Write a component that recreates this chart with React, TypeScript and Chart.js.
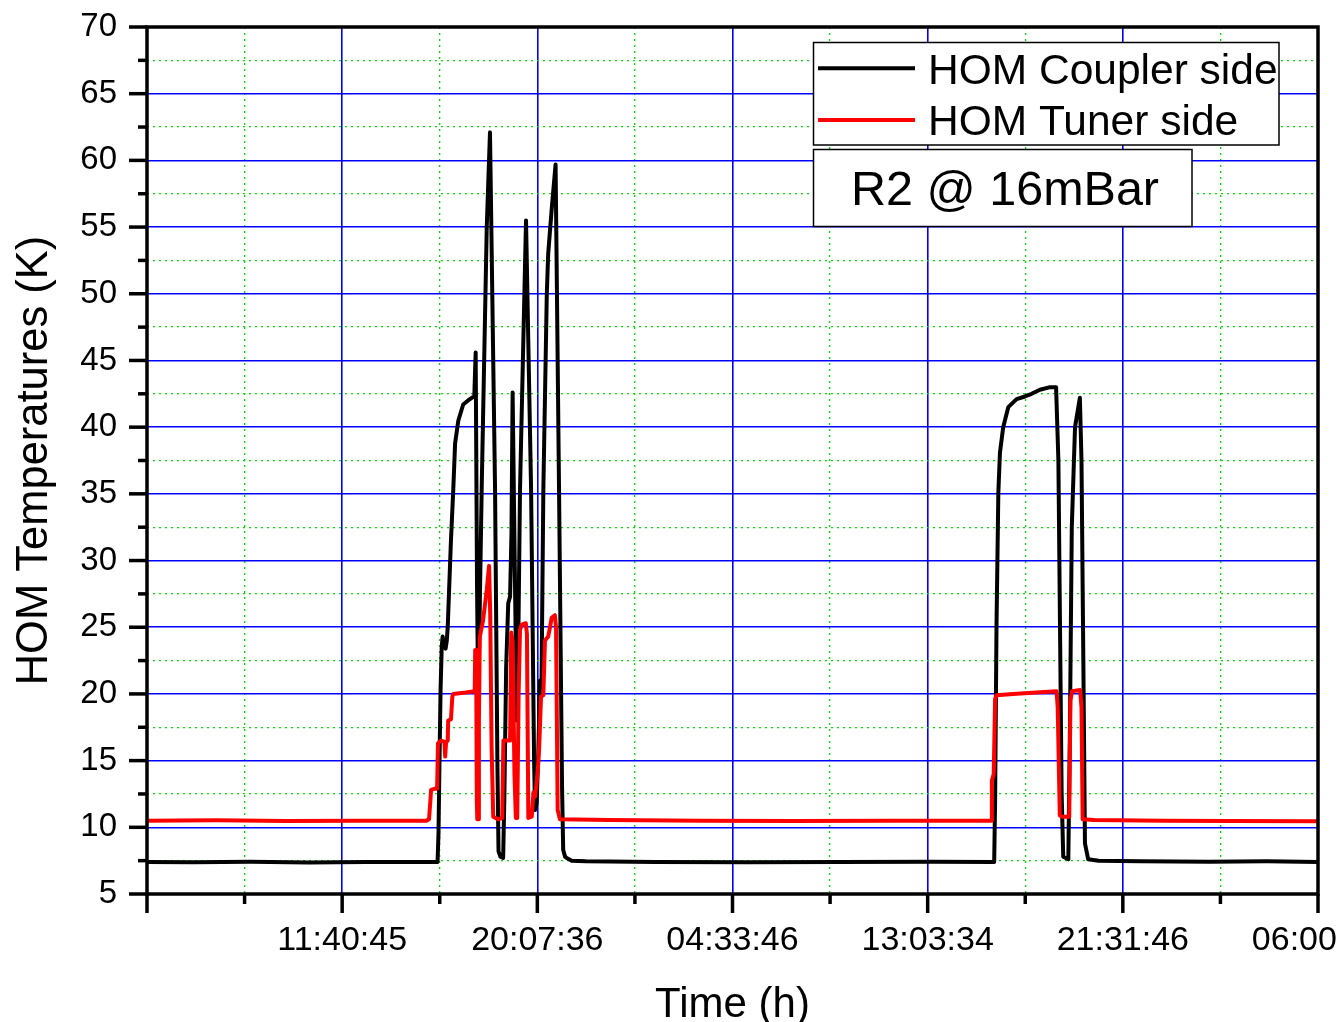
import React, { useEffect, useRef } from 'react';
import { Chart, registerables } from 'chart.js';

Chart.register(...registerables);

// ---- axis definitions ----
const X_MAJOR_STEP_H = 8.45; // hours between labelled time ticks
const X_TICK_LABELS = ['', '11:40:45', '20:07:36', '04:33:46', '13:03:34', '21:31:46', '06:00:00'];
const Y_MIN = 5;
const Y_MAX = 70;
const Y_MAJOR_STEP = 5;

const X_TITLE = 'Time (h)';
const Y_TITLE = 'HOM Temperatures (K)';
const SERIES_NAMES = ['HOM Coupler side', 'HOM Tuner side'];
const ANNOTATION = 'R2 @ 16mBar';

// ---- measured temperatures: [elapsed hours, K] ----
const COUPLER_SIDE: [number, number][] = [
  [0.0, 7.4], [2.0, 7.38], [4.5, 7.42], [7.0, 7.37], [9.5, 7.4], [12.58, 7.4],
  [12.62, 9.5], [12.66, 14.5], [12.71, 20.3], [12.76, 23.5], [12.8, 24.3], [12.85, 23.6],
  [12.93, 23.4], [12.98, 24.0], [13.02, 25.0], [13.08, 27.8], [13.16, 31.5], [13.26, 35.3],
  [13.34, 38.8], [13.48, 40.5], [13.69, 41.7], [13.9, 42.0], [14.06, 42.2], [14.17, 42.3],
  [14.23, 45.6], [14.29, 28.0], [14.34, 19.4], [14.49, 35.3], [14.71, 55.0], [14.85, 62.1],
  [15.07, 35.3], [15.17, 15.0], [15.22, 8.2], [15.3, 7.8], [15.42, 7.7], [15.47, 12.0],
  [15.55, 22.0], [15.64, 26.8], [15.72, 27.3], [15.78, 32.0], [15.83, 42.6], [15.92, 30.0],
  [16.01, 18.0], [16.07, 23.0], [16.15, 35.3], [16.41, 55.5], [16.63, 35.3], [16.76, 15.0],
  [16.8, 11.3], [16.87, 11.8], [16.94, 15.5], [17.02, 21.0], [17.08, 20.5], [17.16, 35.3],
  [17.31, 50.0], [17.37, 53.0], [17.52, 56.3], [17.69, 59.7], [17.84, 35.3], [17.97, 13.0],
  [18.02, 8.3], [18.1, 7.8], [18.17, 7.7], [18.39, 7.5], [19.0, 7.45], [22.0, 7.4],
  [26.0, 7.38], [30.0, 7.4], [34.0, 7.42], [36.68, 7.4], [36.72, 12.0], [36.78, 25.0],
  [36.86, 35.1], [36.93, 38.1], [37.07, 40.0], [37.29, 41.5], [37.65, 42.1], [38.01, 42.3],
  [38.3, 42.5], [38.66, 42.8], [39.1, 43.0], [39.36, 43.0], [39.46, 37.5], [39.53, 25.0],
  [39.6, 12.6], [39.67, 7.8], [39.89, 7.6], [39.96, 17.5], [40.04, 32.5], [40.18, 40.0],
  [40.39, 42.2], [40.46, 37.5], [40.54, 22.5], [40.61, 8.8], [40.75, 7.6], [41.2, 7.5],
  [43.0, 7.45], [46.0, 7.42], [48.5, 7.45], [50.7, 7.4],
];

const TUNER_SIDE: [number, number][] = [
  [0.0, 10.5], [3.0, 10.52], [6.0, 10.48], [9.0, 10.5], [12.1, 10.5], [12.21, 10.6],
  [12.27, 12.0], [12.3, 12.8], [12.47, 12.9], [12.56, 12.9], [12.6, 16.3], [12.73, 16.5],
  [12.88, 16.4], [12.91, 15.3], [12.95, 16.4], [13.02, 16.5], [13.04, 18.0], [13.16, 18.1],
  [13.22, 19.8], [13.26, 20.0], [13.8, 20.1], [14.19, 20.2], [14.21, 23.3], [14.25, 23.3],
  [14.28, 12.0], [14.3, 10.6], [14.34, 10.6], [14.37, 18.0], [14.41, 24.3], [14.55, 25.5],
  [14.71, 27.8], [14.81, 29.6], [14.86, 26.0], [14.92, 16.0], [14.99, 10.8], [15.2, 10.6],
  [15.38, 10.7], [15.43, 16.5], [15.72, 16.5], [15.77, 24.6], [15.83, 24.0], [15.91, 14.0],
  [15.97, 10.7], [16.03, 10.7], [16.09, 20.0], [16.15, 24.8], [16.22, 25.2], [16.4, 25.3],
  [16.45, 24.5], [16.51, 10.7], [16.66, 10.8], [16.73, 12.6], [16.8, 12.3], [16.87, 13.3],
  [16.94, 14.8], [16.98, 16.0], [17.06, 19.8], [17.16, 19.9], [17.23, 24.0], [17.37, 24.3],
  [17.45, 25.0], [17.52, 25.7], [17.66, 25.9], [17.71, 25.0], [17.78, 11.3], [17.88, 10.6],
  [20.0, 10.55], [24.0, 10.5], [28.0, 10.48], [32.0, 10.5], [36.55, 10.5], [36.58, 13.5],
  [36.66, 14.0], [36.72, 19.6], [36.78, 19.9], [37.5, 20.0], [38.5, 20.1], [39.38, 20.2],
  [39.43, 19.0], [39.52, 10.9], [39.6, 10.8], [39.93, 10.8], [39.98, 19.5], [40.05, 20.2],
  [40.4, 20.3], [40.46, 19.0], [40.51, 10.6], [41.0, 10.55], [44.0, 10.5], [47.0, 10.48],
  [50.7, 10.45],
];

const FONT = "'Liberation Sans', Arial, sans-serif";
const GRID_MAJOR = '#0000ff';
const GRID_MINOR = '#00e000';
const SERIES_WIDTH = 4;

const X_MAX = X_MAJOR_STEP_H * (X_TICK_LABELS.length - 1);

// major + minor tick values (minor ticks sit halfway between majors)
const xTickValues = (): number[] => {
  const out: number[] = [];
  for (let i = 0; i <= (X_TICK_LABELS.length - 1) * 2; i++) out.push((i * X_MAJOR_STEP_H) / 2);
  return out;
};
const yTickValues = (): number[] => {
  const out: number[] = [];
  const n = ((Y_MAX - Y_MIN) / Y_MAJOR_STEP) * 2;
  for (let i = 0; i <= n; i++) out.push(Y_MIN + (i * Y_MAJOR_STEP) / 2);
  return out;
};

const toPoints = (rows: [number, number][]) => rows.map(([x, y]) => ({ x, y }));

// Frame, outward tick marks and the in-plot legend / annotation boxes
const overlayPlugin = {
  id: 'frameTicksLegend',
  afterDraw(chart: any) {
    const { ctx, chartArea: a } = chart;
    const xs = chart.scales.x;
    const ys = chart.scales.y;
    const seg = (x1: number, y1: number, x2: number, y2: number) => {
      ctx.beginPath();
      ctx.moveTo(x1, y1);
      ctx.lineTo(x2, y2);
      ctx.stroke();
    };
    ctx.save();
    ctx.strokeStyle = '#000';
    ctx.lineWidth = 3.5;
    ctx.lineCap = 'butt';
    ys.ticks.forEach((t: any, i: number) => {
      const py = ys.getPixelForValue(t.value);
      seg(a.left - (i % 2 === 0 ? 18 : 9), py, a.left, py);
    });
    xs.ticks.forEach((t: any, i: number) => {
      const px = xs.getPixelForValue(t.value);
      seg(px, a.bottom, px, a.bottom + (i % 2 === 0 ? 19 : 10));
    });
    ctx.strokeRect(a.left, a.top, a.right - a.left, a.bottom - a.top);

    // legend box
    ctx.lineWidth = 1.5;
    ctx.fillStyle = '#fff';
    ctx.fillRect(813.5, 42.5, 465.5, 102.5);
    ctx.strokeStyle = '#000';
    ctx.strokeRect(813.5, 42.5, 465.5, 102.5);
    chart.data.datasets.forEach((ds: any, i: number) => {
      const ly = 68.3 + i * 51.7;
      ctx.strokeStyle = ds.borderColor;
      ctx.lineWidth = SERIES_WIDTH;
      seg(818, ly, 915, ly);
      ctx.fillStyle = '#000';
      ctx.font = `42.5px ${FONT}`;
      ctx.textAlign = 'left';
      ctx.textBaseline = 'alphabetic';
      ctx.fillText(ds.label, 928, 83.5 + i * 51);
    });

    // annotation box
    ctx.lineWidth = 1.5;
    ctx.strokeStyle = '#000';
    ctx.fillStyle = '#fff';
    ctx.fillRect(813.5, 149.5, 378.5, 77);
    ctx.strokeRect(813.5, 149.5, 378.5, 77);
    ctx.fillStyle = '#000';
    ctx.font = `48.5px ${FONT}`;
    ctx.textAlign = 'left';
    ctx.textBaseline = 'alphabetic';
    ctx.fillText(ANNOTATION, 851, 205);
    ctx.restore();
  },
};

export default function App() {
  const canvasRef = useRef<HTMLCanvasElement>(null);

  useEffect(() => {
    const canvas = canvasRef.current;
    if (!canvas) return;

    const gridColor = (c: any) => (c.index % 2 === 0 ? GRID_MAJOR : GRID_MINOR);
    const gridWidth = (c: any) => (c.index % 2 === 0 ? 1.6 : 1.3);
    const gridDash = (c: any) => (c.type === 'tick' && c.index % 2 === 1 ? [2, 4] : []);

    const chart = new Chart(canvas, {
      type: 'line',
      data: {
        datasets: [
          {
            label: SERIES_NAMES[0],
            data: toPoints(COUPLER_SIDE),
            borderColor: '#000000',
            borderWidth: SERIES_WIDTH,
            pointRadius: 0,
            tension: 0,
            borderJoinStyle: 'round',
            borderCapStyle: 'round',
            order: 2,
          },
          {
            label: SERIES_NAMES[1],
            data: toPoints(TUNER_SIDE),
            borderColor: '#ff0000',
            borderWidth: SERIES_WIDTH,
            pointRadius: 0,
            tension: 0,
            borderJoinStyle: 'round',
            borderCapStyle: 'round',
            order: 1,
          },
        ],
      },
      options: {
        responsive: false,
        maintainAspectRatio: false,
        animation: false,
        devicePixelRatio: 1,
        parsing: false,
        layout: { padding: { left: 0, top: 27, right: 18, bottom: 0 } },
        plugins: {
          legend: { display: false },
          tooltip: { enabled: false },
          title: { display: false },
        },
        scales: {
          x: {
            type: 'linear',
            min: 0,
            max: X_MAX,
            afterBuildTicks: (s: any) => {
              s.ticks = xTickValues().map((value) => ({ value }));
            },
            afterFit: (s: any) => {
              s.height = 128;
              s.paddingLeft = 0;
              s.paddingRight = 0;
            },
            grid: {
              color: gridColor,
              lineWidth: gridWidth,
              drawTicks: false,
              tickLength: 0,
            },
            border: { display: false, dash: gridDash },
            ticks: {
              autoSkip: false,
              maxRotation: 0,
              minRotation: 0,
              padding: 26,
              color: '#000',
              font: { family: FONT, size: 34 },
              callback: (_v: any, index: number) =>
                index % 2 === 0 ? X_TICK_LABELS[index / 2] : '',
            },
            title: {
              display: true,
              text: X_TITLE,
              color: '#000',
              font: { family: FONT, size: 42, lineHeight: 0.88 },
              padding: { top: 0, bottom: -2 },
            },
          },
          y: {
            type: 'linear',
            min: Y_MIN,
            max: Y_MAX,
            afterBuildTicks: (s: any) => {
              s.ticks = yTickValues().map((value) => ({ value }));
            },
            afterFit: (s: any) => {
              s.width = 147;
              s.paddingTop = 0;
              s.paddingBottom = 0;
            },
            grid: {
              color: gridColor,
              lineWidth: gridWidth,
              drawTicks: false,
              tickLength: 0,
            },
            border: { display: false, dash: gridDash },
            ticks: {
              autoSkip: false,
              padding: 30,
              color: '#000',
              font: { family: FONT, size: 33 },
              callback: (v: any, index: number) => (index % 2 === 0 ? String(v) : ''),
            },
            title: {
              display: true,
              text: Y_TITLE,
              color: '#000',
              font: { family: FONT, size: 43.5, lineHeight: 1 },
              padding: { top: 13, bottom: 0 },
            },
          },
        },
      } as any,
      plugins: [overlayPlugin],
    });

    return () => chart.destroy();
  }, []);

  return (
    <div
      style={{
        position: 'fixed',
        left: 0,
        top: 0,
        width: 1336,
        height: 1022,
        overflow: 'hidden',
        background: '#fff',
      }}
    >
      <canvas
        ref={canvasRef}
        width={1336}
        height={1022}
        style={{ display: 'block', width: 1336, height: 1022 }}
      />
    </div>
  );
}
